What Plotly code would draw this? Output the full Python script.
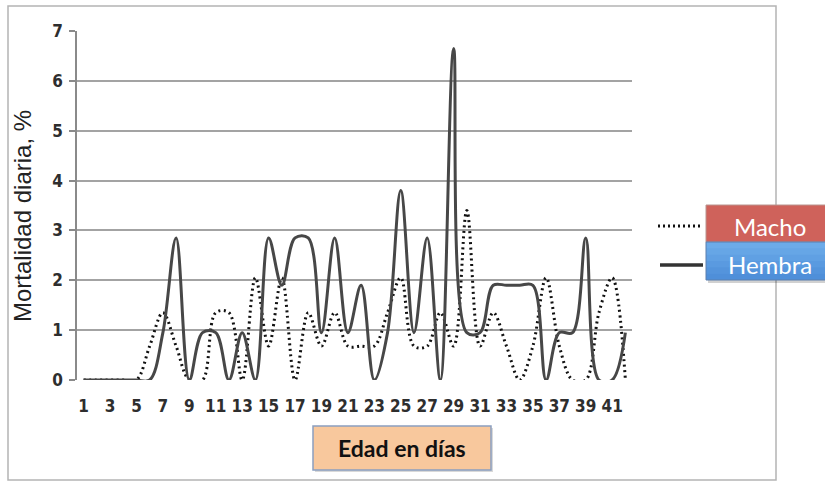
import plotly.graph_objects as go

# Mortalidad diaria (%) por edad en días, por sexo
dias = list(range(1, 43))
hembra = [0, 0, 0, 0, 0, 0, 0.95, 2.85, 0, 0.95,
          0.95, 0, 0.95, 0, 2.85, 1.9, 2.85, 2.85, 0.95, 2.85,
          0.95, 1.9, 0, 0.95, 3.8, 0.95, 2.85, 0, 6.65, 0.95,
          0.95, 1.9, 1.9, 1.9, 1.9, 0, 0.95, 0.95, 2.85, 0,
          0, 0.95]
macho = [0, 0, 0, 0, 0, 0.68, 1.35, 0.68, 0, 0,
         1.35, 1.35, 0, 2.05, 0.68, 2.05, 0, 1.35, 0.68, 1.35,
         0.68, 0.68, 0.68, 1.35, 2.05, 0.68, 0.68, 1.35, 0.68, 3.4,
         0.68, 1.35, 0.68, 0, 0.68, 2.05, 0.68, 0, 0, 1.35,
         2.05, 0]
etiquetas_x = [d for d in dias if d % 2 == 1]
etiquetas_y = list(range(0, 8))

W, H = 825, 482
L, R, T, B = 77, 632, 31, 380  # plot area in pixels

def px(x):
    return (x - L) / (R - L)

def py(y):
    return (B - y) / (B - T)

NARROW = "DejaVu Sans Condensed, Liberation Sans Narrow, sans-serif"

fig = go.Figure()
fig.add_trace(go.Scatter(
    x=dias, y=macho, name="Macho", mode="lines",
    line=dict(color="#111111", width=3, dash="2px,3.5px", shape="spline", smoothing=1),
))
fig.add_trace(go.Scatter(
    x=dias, y=hembra, name="Hembra", mode="lines",
    line=dict(color="#474747", width=3, shape="spline", smoothing=1),
))

shapes = []
# outer frame
shapes.append(dict(type="rect", xref="paper", yref="paper",
                   x0=px(8), x1=px(776), y0=py(480), y1=py(6),
                   line=dict(color="#b4b4b4", width=1.5), layer="below"))
# legend samples
shapes.append(dict(type="line", xref="paper", yref="paper",
                   x0=px(658), x1=px(703), y0=py(226), y1=py(226),
                   line=dict(color="#111111", width=3, dash="2px,3px")))
shapes.append(dict(type="line", xref="paper", yref="paper",
                   x0=px(660), x1=px(703), y0=py(265), y1=py(265),
                   line=dict(color="#333333", width=3.5)))
# legend boxes: shadow, Macho, Hembra (vertical shading)
shapes.append(dict(type="rect", xref="paper", yref="paper",
                   x0=px(708), x1=px(827), y0=py(283), y1=py(207),
                   fillcolor="rgba(0,0,0,0.18)", line=dict(width=0)))
shapes.append(dict(type="rect", xref="paper", yref="paper",
                   x0=px(706), x1=px(826), y0=py(242), y1=py(205),
                   fillcolor="#cf625b", line=dict(color="#b9948f", width=1)))
blues = ["#6cabe9", "#66a6e6", "#60a0e3", "#5a9ae0", "#5494dc", "#4f8fd9"]
n = len(blues)
for i, c in enumerate(blues):
    y0 = 242 + (280 - 242) * i / n
    y1 = 242 + (280 - 242) * (i + 1) / n + 1
    shapes.append(dict(type="rect", xref="paper", yref="paper",
                       x0=px(706), x1=px(826), y0=py(min(y1, 280)), y1=py(y0),
                       fillcolor=c, line=dict(width=0)))
shapes.append(dict(type="rect", xref="paper", yref="paper",
                   x0=px(706), x1=px(826), y0=py(280), y1=py(242),
                   fillcolor="rgba(0,0,0,0)", line=dict(color="#5b7fae", width=1)))
# x-axis title box
shapes.append(dict(type="rect", xref="paper", yref="paper",
                   x0=px(315), x1=px(493), y0=py(472), y1=py(428),
                   fillcolor="rgba(0,0,0,0.15)", line=dict(width=0)))
shapes.append(dict(type="rect", xref="paper", yref="paper",
                   x0=px(313), x1=px(491), y0=py(470), y1=py(426),
                   fillcolor="#f8c89d", line=dict(color="#8b9fc0", width=1.5)))

annotations = [
    dict(text="Mortalidad diaria, %", xref="paper", yref="paper",
         x=px(22), y=py(216), textangle=-90, showarrow=False,
         font=dict(family="Liberation Sans, Arial, sans-serif", size=24, color="#222222"),
         xanchor="center", yanchor="middle"),
    dict(text="Edad en días", xref="paper", yref="paper",
         x=px(402), y=py(448), showarrow=False,
         font=dict(family="Lato, sans-serif", size=23, color="#111111", weight="bold"),
         xanchor="center", yanchor="middle"),
    dict(text="Macho", xref="paper", yref="paper",
         x=px(770), y=py(226), showarrow=False,
         font=dict(family="Lato, sans-serif", size=24, color="#ffffff"),
         xanchor="center", yanchor="middle"),
    dict(text="Hembra", xref="paper", yref="paper",
         x=px(770), y=py(264), showarrow=False,
         font=dict(family="Lato, sans-serif", size=24, color="#ffffff"),
         xanchor="center", yanchor="middle"),
]

fig.update_layout(
    width=W, height=H,
    margin=dict(l=L, r=W - R, t=T, b=H - B, pad=0),
    paper_bgcolor="white", plot_bgcolor="white",
    showlegend=False,
    shapes=shapes, annotations=annotations,
    xaxis=dict(
        range=[0.5, 42.5], tickmode="array", tickvals=etiquetas_x,
        ticktext=[str(v) for v in etiquetas_x],
        showgrid=False, zeroline=False, showline=False, ticks="",
        ticklabelstandoff=14,
        tickfont=dict(family=NARROW, size=17, color="#2e2e2e", weight="bold"),
    ),
    yaxis=dict(
        range=[0, 7], tickmode="array", tickvals=etiquetas_y,
        showgrid=True, gridcolor="#a3a3a3", gridwidth=2,
        zeroline=False, showline=True, linecolor="#8a8a8a", linewidth=1.5,
        ticks="outside", ticklen=6, tickcolor="#8a8a8a", tickwidth=1.5,
        ticklabelstandoff=3,
        tickfont=dict(family=NARROW, size=17, color="#2e2e2e", weight="bold"),
    ),
)

fig.write_html("out.html")
